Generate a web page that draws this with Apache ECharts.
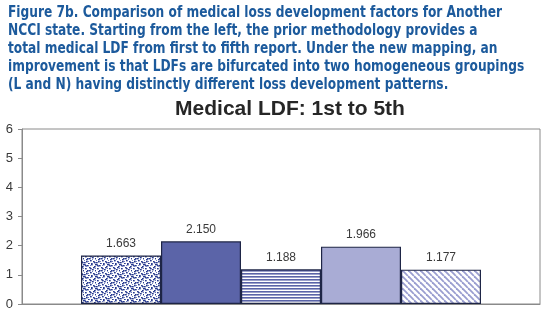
<!DOCTYPE html>
<html><head><meta charset="utf-8">
<script src="https://cdn.jsdelivr.net/npm/echarts@6/dist/echarts.min.js"></script>
<style>html,body{margin:0;padding:0;background:#fff}#c{width:544px;height:323px}</style>
</head><body><div id="c"></div>
<script>
const captionLines = [
  "Figure 7b. Comparison of medical loss development factors for Another",
  "NCCI state. Starting from the left, the prior methodology provides a",
  "total medical LDF from first to fifth report. Under the new mapping, an",
  "improvement is that LDFs are bifurcated into two homogeneous groupings",
  "(L and N) having distinctly different loss development patterns."
];
const chartTitle = "Medical LDF: 1st to 5th";
const categories = ["1st to 5th"];
const seriesNames = ["Prior", "Prior L", "Prior N", "New L", "New N"];
const values = [1.663, 2.150, 1.188, 1.966, 1.177];
const yTicks = [0, 1, 2, 3, 4, 5, 6];

function mk(w, h, draw) {
  const c = document.createElement('canvas'); c.width = w; c.height = h;
  const g = c.getContext('2d'); g.fillStyle = '#fff'; g.fillRect(0, 0, w, h); draw(g); return c;
}
const dots = mk(12, 12, g => {
  g.fillStyle = '#26398f';
  const pts = [[0,0],[3,1],[7,0],[10,2],[1,4],[5,3],[8,5],[11,6],[2,7],[6,8],[9,9],[0,10],[4,11],[7,11],[3,6],[10,10],[5,6],[1,1],[9,3],[6,4],[11,0],[2,9]];
  pts.forEach(p => g.fillRect(p[0], p[1], 1.7, 1.4));
  g.fillStyle = '#6f7fc2';
  [[2,2],[6,1],[11,4],[4,9],[8,7],[0,8]].forEach(p => g.fillRect(p[0], p[1], 1, 1));
});
const hstripes = mk(4, 3, g => { g.fillStyle = '#5a64a8'; g.fillRect(0, 0, 4, 1.6); });
const diag = mk(6, 6, g => {
  g.strokeStyle = '#9a9ed0'; g.lineWidth = 1.8;
  for (let k = -6; k <= 6; k += 6) { g.beginPath(); g.moveTo(k, 0); g.lineTo(k + 6, 6); g.stroke(); }
});
const fills = [
  {image: dots, repeat: 'repeat'},
  '#5b64a8',
  {image: hstripes, repeat: 'repeat'},
  '#a9acd5',
  {image: diag, repeat: 'repeat'}
];

const chart = echarts.init(document.getElementById('c'), null, {renderer: 'canvas'});
chart.setOption({
  animation: false,
  graphic: [{
    type: 'text', x: 8, y: 4, scaleX: 0.905, originX: 0, originY: 0,
    style: {text: captionLines.join('\n'), fill: '#1c5a9c', lineHeight: 18,
      font: 'bold 15px "DejaVu Sans Condensed", "DejaVu Sans", sans-serif'}
  }, {
    type: 'text', x: 290, y: 109,
    style: {text: chartTitle, fill: '#262626', align: 'center', verticalAlign: 'middle',
      font: 'bold 21px "Liberation Sans", Arial, sans-serif'}
  }],
  grid: {left: 22, right: 4, top: 129, bottom: 19, show: true, borderColor: '#8a8a8a', borderWidth: 1},
  xAxis: {type: 'category', data: categories,
    axisLine: {lineStyle: {color: '#8a8a8a'}}, axisTick: {show: false}, axisLabel: {show: false}},
  yAxis: {type: 'value', min: yTicks[0], max: yTicks[yTicks.length - 1], interval: 1,
    axisLine: {show: true, lineStyle: {color: '#8a8a8a'}}, axisTick: {show: true, length: 4, lineStyle: {color: '#8a8a8a'}},
    splitLine: {show: false},
    axisLabel: {color: '#3a3a3a', fontSize: 13, margin: 9, fontFamily: '"Liberation Sans", Arial, sans-serif'}},
  series: values.map((v, i) => ({
    name: seriesNames[i], type: 'bar', data: [v], barWidth: 80, barGap: '0%',
    itemStyle: {color: fills[i], borderColor: '#1e2546', borderWidth: 1.2},
    label: {show: true, position: 'top', distance: 6, color: '#3a3a3a', fontSize: 12,
      fontFamily: '"Liberation Sans", Arial, sans-serif', formatter: p => p.value.toFixed(3)}
  }))
});
</script></body></html>
